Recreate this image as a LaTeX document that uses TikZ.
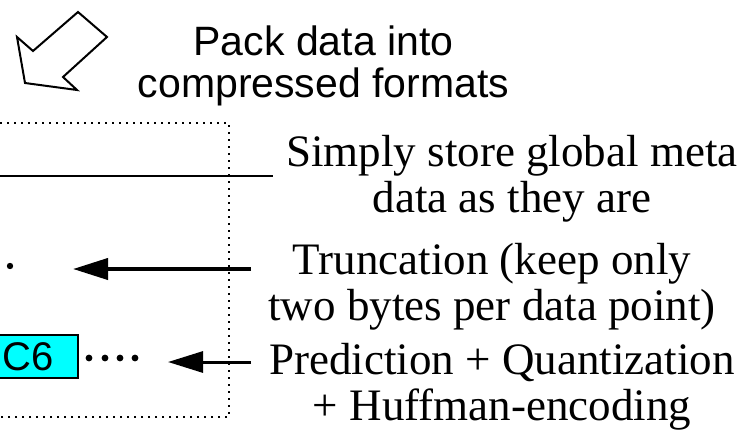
\documentclass[tikz,border=0pt]{standalone}
\usepackage{fontspec}
\setmainfont{Liberation Serif}
\setsansfont{Liberation Sans}
\usetikzlibrary{arrows.meta}
\definecolor{cellcyan}{RGB}{0,255,255}

\begin{document}
\begin{tikzpicture}[x=0.5pt,y=-0.5pt,
    note/.style={font=\fontsize{22.5}{23}\selectfont,align=center,anchor=base,inner sep=0},
    headline/.style={font=\sffamily\fontsize{20.5}{21}\selectfont,align=center,anchor=base,inner sep=0},
    dotbox/.style={dash pattern=on 1.2pt off 2.3pt,line width=1.2pt},
    pointer/.style={-{Triangle[length=17.5pt,width=10.5pt]}},
    cell/.style={draw,line width=1.4pt,fill=cellcyan,minimum width=50pt,minimum height=21.5pt,
    font=\sffamily\fontsize{20}{21}\selectfont,inner sep=0}
    ]
    \def\W{738} % picture width
    \def\H{429} % picture height
    \useasboundingbox (0,0) rectangle (\W,\H);
    \clip (0,0) rectangle (\W,\H);

    % hollow block arrow
    \draw[line width=1pt] (17,37) -- (33,51) -- (78,12) -- (107,37) -- (63,77) -- (77,90) -- (25,83) -- cycle;
    \node[headline] (pack) at (323.5,97) {Pack data into\\compressed formats};

    % dotted frame
    \draw[dotbox] (0,123) -- (229,123) -- (229,417) -- (0,417);

    % global meta data
    \draw[line width=1pt] (0,176) -- (273,176);
    \node[note] (meta) at (512,212) {Simply store global meta\\data as they are};

    % truncated data
    \fill (10,266) circle (1.6pt);
    \coordinate (truncTail) at (251,269);
    \coordinate (truncTip) at (73,269);
    \draw[pointer,line width=2pt] (truncTail) -- (truncTip);
    \node[note] (trunc) at (492,320) {Truncation (keep only\\two bytes per data point)};

    % predicted data
    \node[cell] (c6) at (28,356.5) {C6};
    \foreach \x in {89,105,120,135} {
        \fill (\x,358) circle (1.7pt);
    }
    \coordinate (predTail) at (251,362);
    \coordinate (predTip) at (168,362);
    \draw[pointer,line width=1.5pt] (predTail) -- (predTip);
    \node[note] (pred) at (502,420) {Prediction + Quantization\\+ Huffman-encoding};
\end{tikzpicture}
\end{document}
